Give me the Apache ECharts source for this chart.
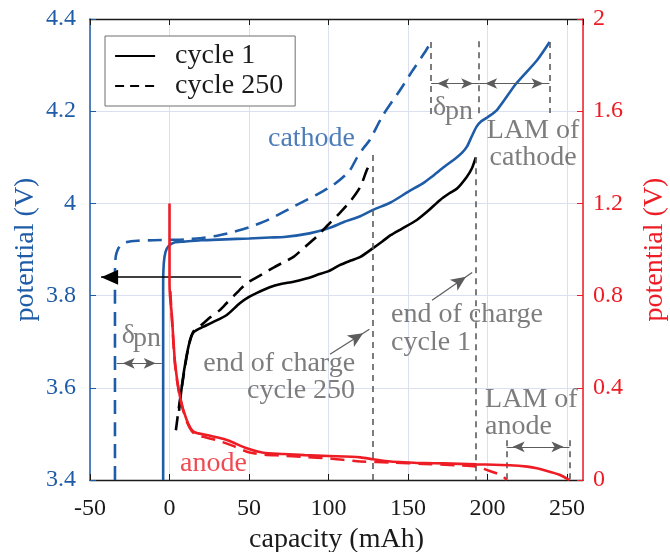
<!DOCTYPE html>
<html>
<head>
<meta charset="utf-8">
<script src="https://cdn.jsdelivr.net/npm/echarts@6/dist/echarts.min.js"></script>
<style>
  html, body { margin: 0; padding: 0; background: #fff; }
  #chart { width: 670px; height: 552px; }
</style>
</head>
<body>
<div id="chart"></div>
<script>
// ---- electrode potentials vs. capacity (left axis: cathode / full cell, right axis: anode) ----

// cathode, cycle 1 (capacity mAh, potential V)
const cathode1X = [-4, -4, -3.6, -2.5, -0.5, 3, 9, 20, 35, 50, 63, 72, 88, 100, 110, 120, 128, 139, 150, 160, 165, 173, 180, 184, 187, 190, 193, 196, 200, 206, 218, 231, 239];
const cathode1Y = [3.40, 3.82, 3.87, 3.895, 3.908, 3.915, 3.917, 3.92, 3.922, 3.924, 3.926, 3.927, 3.935, 3.946, 3.96, 3.972, 3.986, 4.002, 4.025, 4.045, 4.058, 4.08, 4.098, 4.11, 4.123, 4.145, 4.166, 4.178, 4.187, 4.203, 4.26, 4.31, 4.35];

// cathode, cycle 250
const cathode250X = [-34.3, -34.3, -33.8, -32.5, -30.5, -27, -20, -10, 0, 10, 20, 30, 40, 50, 63, 78, 92, 103, 113, 118, 122, 126, 134, 145, 153, 160, 164.5];
const cathode250Y = [3.40, 3.85, 3.885, 3.9, 3.91, 3.916, 3.919, 3.92, 3.921, 3.922, 3.925, 3.93, 3.938, 3.948, 3.966, 3.993, 4.018, 4.04, 4.07, 4.1, 4.12, 4.138, 4.19, 4.246, 4.289, 4.325, 4.35];

// full cell, cycle 1
const cell1X = [6, 8, 10.5, 13, 14.5, 17, 21, 27, 36, 44, 50, 55, 63, 70, 78, 86, 93, 100, 107, 114, 120, 128, 134, 139, 146, 155.5, 163, 170, 176, 181, 187, 190, 192.6];
const cell1Y = [3.55, 3.61, 3.665, 3.705, 3.718, 3.725, 3.732, 3.742, 3.758, 3.783, 3.797, 3.806, 3.818, 3.825, 3.83, 3.837, 3.845, 3.853, 3.866, 3.876, 3.884, 3.903, 3.918, 3.931, 3.945, 3.964, 3.985, 4.007, 4.022, 4.033, 4.058, 4.075, 4.1];

// full cell, cycle 250
const cell250X = [4, 6, 9, 12, 15, 18, 21.3, 26, 31.8, 36, 40, 44, 48.6, 54, 59, 66, 72, 78, 85, 92.6, 99, 107, 114, 120, 124, 126.5];
const cell250Y = [3.508, 3.56, 3.63, 3.69, 3.722, 3.73, 3.74, 3.754, 3.769, 3.784, 3.798, 3.812, 3.827, 3.838, 3.848, 3.862, 3.873, 3.884, 3.905, 3.928, 3.951, 3.979, 4.006, 4.036, 4.072, 4.09];

// anode, cycle 1 (right axis)
const anode1X = [0, 0, 0.3, 1.4, 3.5, 6.6, 10.8, 15, 23.4, 36, 48.6, 59, 71.6, 85, 100, 120, 128, 139, 151, 160, 172, 193, 214, 225, 231, 239, 245.6, 251.5];
const anode1Y = [1.2, 0.85, 0.8, 0.72, 0.506, 0.361, 0.26, 0.21, 0.195, 0.174, 0.1375, 0.118, 0.113, 0.108, 0.104, 0.098, 0.09, 0.08, 0.076, 0.073, 0.072, 0.068, 0.064, 0.058, 0.051, 0.036, 0.022, 0.0];

// anode, cycle 250 (right axis)
const anode250X = [0.5, 1.5, 3.5, 6.6, 10.8, 15, 20, 30, 40, 48.6, 57, 70, 85, 100, 110, 120, 140, 160, 180, 193, 201, 206, 209.6, 212];
const anode250Y = [0.82, 0.7, 0.5, 0.355, 0.255, 0.205, 0.19, 0.172, 0.148, 0.123, 0.112, 0.106, 0.1, 0.094, 0.087, 0.08, 0.076, 0.07, 0.064, 0.058, 0.04, 0.028, 0.017, 0.0];

// axis ranges and tick steps
const capacityRange = [-50, 260, 50];
const cathodeRange = [3.4, 4.4, 0.2];
const anodeRange = [0, 2, 0.4];

// ---- styling ----
const BLUE = '#1f5ca8';
const RED = '#ee1c25';
const GRAY = '#5c5c5c';
const INK = '#1a1a1a';
const GRID = '#dcdff0';
const FONT = 'Liberation Serif, DejaVu Serif, serif';
const TEXT_SIZE = 28;

// annotation texts, placed in capacity / cathode-potential units
const notes = [
  { text: 'cathode', at: [61.9, 4.1397], align: 'left', color: BLUE },
  { text: 'anode', at: [6.6, 3.4345], align: 'left', color: RED },
  { text: 'δ', at: [165.7, 4.2076], align: 'left', color: GRAY },
  { text: 'pn', at: [173.3, 4.1993], align: 'left', color: GRAY },
  { text: 'δ', at: [-30.1, 3.7124], align: 'left', color: GRAY },
  { text: 'pn', at: [-23.0, 3.706], align: 'left', color: GRAY },
  { text: 'LAM of\ncathode', at: [228.6, 4.1289], align: 'center', color: GRAY },
  { text: 'end of charge\ncycle 1', at: [139.3, 3.7286], align: 'left', color: GRAY },
  { text: 'end of charge\ncycle 250', at: [116.7, 3.623], align: 'right', color: GRAY },
  { text: 'LAM of\nanode', at: [198.4, 3.5453], align: 'left', color: GRAY }
];

// guide lines: [from, to, kind]
const guides = [
  [[164.5, 4.35], [164.5, 4.188], 'dash'],
  [[194.7, 4.352], [194.7, 4.188], 'dash'],
  [[238.9, 4.35], [238.9, 4.196], 'dash'],
  [[127.8, 4.105], [127.8, 3.4], 'dash'],
  [[192.6, 4.10], [192.6, 3.4], 'dash'],
  [[212, 3.486], [212, 3.4], 'dash'],
  [[251.5, 3.486], [251.5, 3.4], 'dash'],
  [[164.5, 4.26], [194.7, 4.26], 'both'],
  [[194.7, 4.26], [238.9, 4.26], 'both'],
  [[212, 3.472], [251.5, 3.472], 'both'],
  [[-33.2, 3.653], [-4.9, 3.653], 'both'],
  [[165.1, 3.79], [190.3, 3.85], 'end'],
  [[100.9, 3.673], [125.7, 3.727], 'end'],
  [[45, 3.84], [-43, 3.84], 'shift']
];

const pairs = (xs, ys) => xs.map((x, i) => [x, ys[i]]);

function guideItem(g) {
  const [a, b, kind] = g;
  const dashStyle = { color: GRAY, width: 1.6, type: [6, 5] };
  const arrowStyle = { color: GRAY, width: 1.2, type: 'solid' };
  const head = (sym, w, h) => ({ symbol: sym, symbolSize: [w, h], symbolOffset: [0, h / 2] });
  if (kind === 'dash') {
    return [{ coord: a, symbol: 'none', lineStyle: dashStyle }, { coord: b, symbol: 'none' }];
  }
  if (kind === 'both') {
    return [Object.assign({ coord: a, lineStyle: arrowStyle }, head('arrow', 8, 12)),
            Object.assign({ coord: b }, head('arrow', 8, 12))];
  }
  if (kind === 'end') {
    return [{ coord: a, symbol: 'none', lineStyle: arrowStyle },
            Object.assign({ coord: b }, head('arrow', 10, 15))];
  }
  // heavy black shift arrow
  return [{ coord: a, symbol: 'none', lineStyle: { color: '#000', width: 1.6, type: 'solid' } },
          Object.assign({ coord: b }, head('triangle', 15, 17))];
}

const lineSeries = (name, xs, ys, color, dashed, yIndex, z) => ({
  name: name,
  type: 'line',
  xAxisIndex: 0,
  yAxisIndex: yIndex,
  data: pairs(xs, ys),
  symbol: 'none',
  showSymbol: false,
  smooth: 0.25,
  z: z,
  silent: true,
  lineStyle: { color: color, width: 2.6, type: dashed ? [14, 8] : 'solid' },
  itemStyle: { color: color },
  emphasis: { disabled: true }
});

const axisText = (color) => ({ fontFamily: FONT, fontSize: 24, color: color });

const option = {
  animation: false,
  backgroundColor: '#fff',
  textStyle: { fontFamily: FONT },
  grid: { left: 90, right: 87, top: 19, bottom: 72, containLabel: false, outerBoundsMode: 'none' },
  legend: {
    data: [
      { name: 'cycle 1' },
      { name: 'cycle 250', lineStyle: { type: [9, 6] } }
    ],
    orient: 'vertical',
    left: 105,
    top: 36,
    padding: [6, 12, 6, 9],
    itemGap: 2,
    itemWidth: 40,
    itemHeight: 2,
    borderColor: '#6e6e6e',
    borderWidth: 1,
    backgroundColor: '#fff',
    selectedMode: false,
    itemStyle: { color: 'rgba(0,0,0,0)', borderWidth: 0, opacity: 0 },
    lineStyle: { width: 2.2 },
    textStyle: { fontFamily: FONT, fontSize: TEXT_SIZE, color: INK, lineHeight: 28, padding: [0, 0, 0, 15] }
  },
  xAxis: [
    {
      type: 'value', position: 'bottom',
      min: capacityRange[0], max: capacityRange[1], interval: capacityRange[2],
      axisLine: { show: true, onZero: false, lineStyle: { color: INK, width: 1.3 } },
      axisTick: { show: true, inside: true, length: 6, lineStyle: { color: INK } },
      axisLabel: Object.assign({ margin: 17 }, axisText(INK)),
      splitLine: { show: true, lineStyle: { color: GRID, width: 1 } },
      name: 'capacity (mAh)', nameLocation: 'middle', nameGap: 46, nameMoveOverlap: false,
      nameTextStyle: { fontFamily: FONT, fontSize: TEXT_SIZE, color: INK }
    },
    {
      type: 'value', position: 'top',
      min: capacityRange[0], max: capacityRange[1], interval: capacityRange[2],
      axisLine: { show: true, onZero: false, lineStyle: { color: INK, width: 1.3 } },
      axisTick: { show: true, inside: true, length: 6, lineStyle: { color: INK } },
      axisLabel: { show: false },
      splitLine: { show: false }
    }
  ],
  yAxis: [
    {
      type: 'value', position: 'left',
      min: cathodeRange[0], max: cathodeRange[1], interval: cathodeRange[2],
      axisLine: { show: true, onZero: false, lineStyle: { color: BLUE, width: 1.5 } },
      axisTick: { show: true, inside: true, length: 6, lineStyle: { color: BLUE } },
      axisLabel: Object.assign({ margin: 14 }, axisText(BLUE)),
      splitLine: { show: true, lineStyle: { color: GRID, width: 1 } },
      name: 'potential (V)', nameLocation: 'middle', nameGap: 50, nameMoveOverlap: false,
      nameTextStyle: { fontFamily: FONT, fontSize: TEXT_SIZE, color: BLUE }
    },
    {
      type: 'value', position: 'right',
      min: anodeRange[0], max: anodeRange[1], interval: anodeRange[2],
      axisLine: { show: true, onZero: false, lineStyle: { color: RED, width: 1.5 } },
      axisTick: { show: true, inside: true, length: 6, lineStyle: { color: RED } },
      axisLabel: Object.assign({ margin: 10 }, axisText(RED)),
      splitLine: { show: false },
      name: 'potential (V)', nameLocation: 'middle', nameGap: 58, nameMoveOverlap: false,
      nameTextStyle: { fontFamily: FONT, fontSize: TEXT_SIZE, color: RED }
    }
  ],
  series: [
    lineSeries('cathode 1', cathode1X, cathode1Y, BLUE, false, 0, 3),
    lineSeries('cathode 250', cathode250X, cathode250Y, BLUE, true, 0, 3),
    lineSeries('cycle 1', cell1X, cell1Y, '#000', false, 0, 4),
    lineSeries('cycle 250', cell250X, cell250Y, '#000', true, 0, 4),
    lineSeries('anode 250', anode250X, anode250Y, RED, true, 1, 6),
    lineSeries('anode 1', anode1X, anode1Y, RED, false, 1, 6),
    {
      name: 'notes',
      type: 'scatter',
      xAxisIndex: 0,
      yAxisIndex: 0,
      symbolSize: 0,
      silent: true,
      z: 5,
      data: notes.map(n => ({
        value: n.at,
        label: {
          show: true,
          position: 'inside',
          formatter: n.text,
          align: n.align,
          verticalAlign: 'middle',
          color: n.color,
          fontFamily: FONT,
          fontSize: TEXT_SIZE,
          lineHeight: 27.5
        }
      })),
      markLine: {
        silent: true,
        animation: false,
        label: { show: false },
        emphasis: { disabled: true },
        data: guides.map(guideItem)
      }
    }
  ]
};

const chart = echarts.init(document.getElementById('chart'), null, { renderer: 'canvas' });
chart.setOption(option);
</script>
</body>
</html>
